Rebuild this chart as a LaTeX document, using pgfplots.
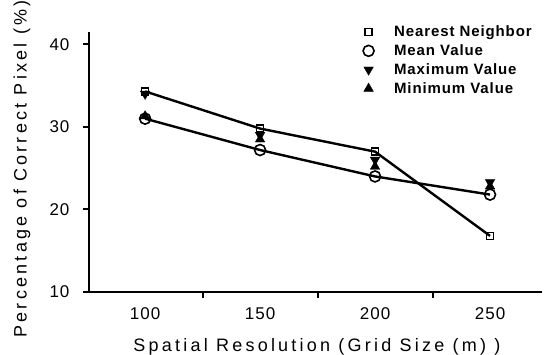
\documentclass[border=0pt]{standalone}
\usepackage{fontspec}
\setmainfont{Liberation Sans}
\newfontfamily\tickfont[LetterSpace=6]{Liberation Sans}
\newfontfamily\labfont[LetterSpace=18]{Liberation Sans}
\newfontfamily\legfont[LetterSpace=6]{Liberation Sans}
\usepackage{pgfplots}
\usepackage{pgfplotstable}
\pgfplotsset{compat=1.18}

% Percentage of correctly classified pixels per aggregation method
\pgfplotstableread{
res  pct
100  34.3
150  29.8
200  27.0
250  16.8
}\nearest
\pgfplotstableread{
res  pct
100  31.0
150  27.2
200  24.0
250  21.8
}\meanval
\pgfplotstableread{
res  pct
100  34.0
150  29.0
200  26.0
250  23.3
}\maxval
\pgfplotstableread{
res  pct
100  31.3
150  28.5
200  25.2
250  22.8
}\minval

\begin{document}
\begin{tikzpicture}
\path[use as bounding box] (-89pt,-63pt) rectangle (458pt,292pt);
\begin{axis}[
  scale only axis,
  width=453pt, height=260pt,
  xmin=75.6, xmax=272.6,
  ymin=10, ymax=41.5,
  axis lines=left,
  axis line style={line width=1.8pt, -},
  xtick={125,175,225},
  xticklabels={},
  extra x ticks={100,150,200,250},
  extra x tick style={major tick length=0pt},
  ytick={10,20,30,40},
  major tick length=6pt,
  tick align=outside,
  tick style={line width=2pt, black},
  /pgf/number format/assume math mode=true,
  tick label style={font=\tickfont\fontsize{17}{20}\selectfont},
  xticklabel style={yshift=-12pt},
  yticklabel style={xshift=-10pt},
  xlabel={Spatial Resolution (Grid Size (m) )},
  ylabel={Percentage of Correct Pixel (\%)},
  label style={font=\labfont\fontsize{18}{21}\selectfont},
  xlabel style={at={(axis description cs:0.503,-0.21)}, anchor=center},
  ylabel style={at={(axis description cs:-0.148,0.473)}, anchor=center, rotate=0},
  legend style={at={(0.598,1.04)}, anchor=north west, draw=none, fill=none,
    font=\legfont\bfseries\fontsize{15}{17}\selectfont, row sep=2.5pt,
    column sep=18pt, legend cell align=left},
]
% connecting lines
\addplot[black, line width=2.4pt, no marks, forget plot] table[x=res,y=pct] {\nearest};
\addplot[black, line width=2.4pt, no marks, forget plot] table[x=res,y=pct] {\meanval};
% markers
\addplot[only marks, mark=square, mark size=3.5pt, black, line width=1.4pt] table[x=res,y=pct] {\nearest};
\addplot[only marks, mark=o, mark size=5.5pt, black, line width=1.6pt, fill=white] table[x=res,y=pct] {\meanval};
\addplot[only marks, mark=triangle*, mark size=5.5pt, black, mark options={rotate=180}] table[x=res,y=pct] {\maxval};
\addplot[only marks, mark=triangle*, mark size=5.5pt, black] table[x=res,y=pct] {\minval};
\legend{Nearest Neighbor, Mean Value, Maximum Value, Minimum Value}
\end{axis}
\end{tikzpicture}
\end{document}
